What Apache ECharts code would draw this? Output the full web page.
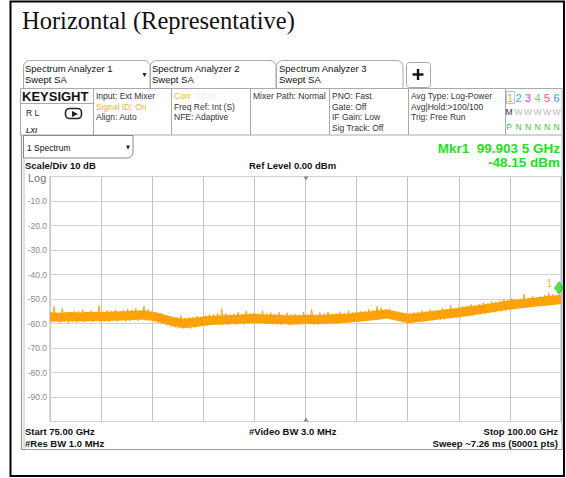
<!DOCTYPE html>
<html><head><meta charset="utf-8">
<script src="https://cdn.jsdelivr.net/npm/echarts@6/dist/echarts.min.js"></script>
<style>html,body{margin:0;padding:0;background:#fff}#c{width:566px;height:478px}</style>
</head><body><div id="c"></div>
<script>
// ---- data ----
const freqStartGHz = 75, freqStopGHz = 100, freqDivGHz = 2.5;
const refLevelDb = 0, bottomDb = -100, dbPerDiv = 10;
const bandStepGHz = 0.5, traceStepGHz = 0.1;
const bandHighDb = [-55.5,-55.6,-55.3,-55.5,-55.2,-55.4,-55.1,-55.0,-54.9,-54.6,-55.2,-56.1,-57.3,-58.0,-57.8,-57.1,-56.8,-56.6,-56.5,-56.2,-56.0,-56.3,-56.4,-56.6,-56.6,-56.4,-56.5,-56.4,-56.1,-56.0,-55.5,-55.2,-54.7,-54.3,-55.2,-56.0,-55.7,-55.1,-54.7,-54.1,-53.7,-53.0,-52.5,-51.8,-51.2,-50.5,-50.1,-49.6,-49.2,-48.7,-48.3];
const bandLowDb = [-59.2,-59.3,-59.1,-59.2,-59.0,-59.1,-58.9,-58.8,-58.6,-58.4,-58.9,-59.9,-61.0,-61.8,-61.5,-60.9,-60.5,-60.4,-60.2,-60.0,-59.8,-60.0,-60.2,-60.3,-60.4,-60.1,-60.3,-60.1,-59.9,-59.7,-59.3,-58.9,-58.5,-58.0,-58.9,-59.8,-59.4,-58.9,-58.4,-57.9,-57.4,-56.8,-56.2,-55.6,-54.9,-54.3,-53.8,-53.4,-52.9,-52.5,-52.0];
const traceDb = [
-55.2,-59.4,-53.0,-58.9,-55.8,-59.6,-53.9,-59.1,-55.3,-59.8,
-55.6,-59.2,-54.9,-59.7,-55.1,-58.8,-54.4,-59.5,-55.9,-59.0,
-54.8,-59.3,-55.4,-58.9,-52.8,-59.6,-55.2,-59.1,-54.7,-59.4,
-55.0,-58.8,-54.3,-59.2,-55.3,-58.7,-54.6,-59.3,-54.1,-58.9,
-54.4,-58.6,-53.8,-58.9,-54.9,-58.3,-52.9,-58.8,-54.2,-58.5,
-54.9,-59.1,-55.4,-59.6,-55.8,-60.2,-56.5,-60.7,-56.9,-61.2,
-57.2,-61.6,-57.6,-61.9,-56.8,-62.1,-57.9,-61.8,-57.5,-62.0,
-57.4,-61.7,-56.9,-61.3,-57.6,-61.0,-56.7,-60.8,-56.2,-60.6,
-56.4,-60.5,-55.8,-60.7,-54.0,-60.3,-55.9,-60.6,-56.3,-60.2,
-56.0,-60.4,-55.5,-60.1,-56.3,-60.5,-54.9,-60.0,-55.9,-59.9,
-55.7,-60.0,-56.1,-59.8,-54.8,-60.2,-56.0,-59.9,-55.6,-60.3,
-56.2,-60.4,-55.5,-60.6,-56.4,-60.2,-55.7,-60.7,-56.3,-60.5,
-56.1,-60.6,-56.5,-60.3,-55.4,-60.5,-56.2,-60.2,-54.3,-60.4,
-56.3,-60.5,-55.6,-60.2,-56.0,-60.4,-55.3,-60.0,-56.1,-60.1,
-55.9,-60.0,-55.2,-59.8,-55.8,-59.7,-54.8,-59.6,-55.5,-59.4,
-55.3,-59.5,-54.9,-59.1,-55.0,-58.9,-54.2,-58.8,-54.6,-58.6,
-53.0,-58.5,-53.7,-58.2,-54.2,-57.9,-53.9,-58.3,-54.8,-58.7,
-55.1,-59.0,-55.6,-59.6,-56.0,-60.1,-55.9,-60.0,-55.4,-59.6,
-55.3,-59.5,-54.8,-59.3,-55.1,-58.9,-54.3,-58.8,-54.6,-58.5,
-54.4,-58.4,-53.8,-58.3,-54.2,-57.9,-52.5,-57.8,-53.7,-57.6,
-53.4,-57.5,-53.0,-57.1,-52.8,-56.9,-52.2,-56.7,-52.6,-56.3,
-52.1,-56.2,-51.5,-56.0,-51.9,-55.6,-51.0,-55.4,-51.3,-55.0,
-50.9,-55.0,-50.2,-54.7,-50.6,-54.4,-49.8,-54.2,-50.3,-53.9,
-49.9,-53.8,-48.0,-53.6,-49.7,-53.4,-48.9,-53.2,-49.4,-53.0,
-48.9,-52.9,-48.4,-52.8,-47.6,-52.5,-48.1,-52.4,-48.6,-52.1,
-49.8];
const markerFreqGHz = [99.9035];
const markerDb = [-48.15];
const markerNames = ['1'];
const yTickLabels = ['', '-10.0', '-20.0', '-30.0', '-40.0', '-50.0', '-60.0', '-70.0', '-80.0', '-90.0', ''];

// ---- build series data ----
const traceData = traceDb.map((v, i) => [+(freqStartGHz + i * traceStepGHz).toFixed(2), v]);
const markerData = markerFreqGHz.map((f, i) => [f, markerDb[i]]);

const ORANGE = '#ffa20a';
const SANS = '"Liberation Sans", Arial, sans-serif';
const G = [];
function T(x, y, text, o) {
  o = o || {};
  const st = {
    x: x, y: y, text: text,
    fontSize: o.size || 8.5, fontFamily: o.family || SANS,
    fontWeight: o.weight || 'normal', fontStyle: o.style || 'normal',
    fill: o.color || '#333',
    align: o.align || 'left', verticalAlign: 'middle',
    textAlign: o.align || 'left', textVerticalAlign: 'middle'
  };
  G.push({ type: 'text', silent: true, z: 10, style: st });
}
function L(x1, y1, x2, y2, c, w) {
  G.push({ type: 'line', silent: true, z: 5, shape: { x1, y1, x2, y2 }, style: { stroke: c || '#aaa', lineWidth: w || 1 } });
}
function R(x, y, w, h, o) {
  o = o || {};
  G.push({ type: 'rect', silent: true, z: o.z || 4, shape: { x, y, width: w, height: h, r: o.r || 0 },
    style: { fill: o.fill || 'none', stroke: o.stroke || '#aaa', lineWidth: o.lw || 1 } });
}
function P(points, c, z) {
  G.push({ type: 'polygon', silent: true, z: z || 6, shape: { points }, style: { fill: c || '#333' } });
}

// outer document border
R(10.5, 1.5, 553.5, 474.5, { stroke: '#000', lw: 2 });
T(22, 20.5, 'Horizontal (Representative)', { size: 24.5, family: '"Liberation Serif", "Times New Roman", serif', color: '#111' });

// tabs
R(23.5, 60.5, 126.5, 28, { r: [6, 6, 0, 0], stroke: '#aaa' });
R(150.5, 60.5, 125.5, 28, { r: [6, 6, 0, 0], stroke: '#aaa' });
R(276.5, 60.5, 126.5, 28, { r: [6, 6, 0, 0], stroke: '#aaa' });
R(406.5, 62.5, 24, 25, { r: 3, stroke: '#aaa' });
L(412.5, 74.5, 423.5, 74.5, '#111', 2.4);
L(418, 69, 418, 80, '#111', 2.4);
T(25, 68.5, 'Spectrum Analyzer 1', { size: 9.5, color: '#111' });
T(25, 79.5, 'Swept SA', { size: 9.5, color: '#111' });
P([[142.5, 73], [146.5, 73], [144.5, 77]], '#222');
T(152, 68.5, 'Spectrum Analyzer 2', { size: 9.5, color: '#111' });
T(152, 79.5, 'Swept SA', { size: 9.5, color: '#111' });
T(279, 68.5, 'Spectrum Analyzer 3', { size: 9.5, color: '#111' });
T(279, 79.5, 'Swept SA', { size: 9.5, color: '#111' });

// info row
R(20.5, 88.5, 541.5, 46.5, { stroke: '#aaa' });
[93.5, 171.5, 250.5, 329.5, 408.5, 505.5].forEach(x => L(x, 88.5, x, 135, '#aaa', 1));
L(20.5, 103.5, 93.5, 103.5, '#aaa', 1);
T(22, 96.5, 'KEYSIGHT', { size: 13, weight: 'bold', color: '#111' });
T(26, 112.5, 'R L', { size: 8.5, color: '#222' });
R(65.5, 108.5, 16, 10, { r: 4, stroke: '#222', lw: 1.6 });
P([[72, 111], [78, 114], [72, 117]], '#222');
T(26, 130, 'LXI', { size: 7, weight: 'bold', style: 'italic', color: '#333' });
const info = [
  [96, ['Input: Ext Mixer', 'Signal ID: On', 'Align: Auto'], ['#333', '#ffb21e', '#333']],
  [174, ['Corr', 'Freq Ref: Int (S)', 'NFE: Adaptive'], ['#ffb21e', '#333', '#333']],
  [253, ['Mixer Path: Normal'], ['#333']],
  [332, ['PNO: Fast', 'Gate: Off', 'IF Gain: Low', 'Sig Track: Off'], ['#333', '#333', '#333', '#333']],
  [411, ['Avg Type: Log-Power', 'Avg|Hold:>100/100', 'Trig: Free Run'], ['#333', '#333', '#333']]
];
const rowY = [96, 106.7, 117.3, 128];
info.forEach(b => b[1].forEach((s, i) => T(b[0], rowY[i], s, { size: 8.5, color: b[2][i] })));
T(195, 96, 'CCorr', { size: 8.5, color: '#ececec' });
// trace indicator box
const trX = [510, 518.5, 528, 537.5, 547, 556.5];
const trC = ['#ffa20a', '#2ab0e8', '#e040e0', '#66d88a', '#ff5070', '#3b8cf0'];
R(506.5, 91.5, 8, 12, { stroke: '#9cc9e8' });
['1', '2', '3', '4', '5', '6'].forEach((s, i) => T(trX[i], 97.5, s, { size: 11, color: trC[i], align: 'center' }));
['M', 'W', 'W', 'W', 'W', 'W'].forEach((s, i) => T(trX[i] - (i ? 0 : 1), 112, s, { size: 8.5, color: i ? '#b8b8b8' : '#333', align: 'center' }));
['P', 'N', 'N', 'N', 'N', 'N'].forEach((s, i) => T(trX[i] - (i ? 0 : 1), 126.5, s, { size: 8.5, color: '#3cc23c', align: 'center' }));

// lower screen frame
L(21.5, 135, 21.5, 450, '#999', 1.2);
L(24, 158, 24, 450, '#bbb', 1);
L(21, 449.5, 562, 449.5, '#999', 1.2);
L(562, 135, 562, 450, '#aaa', 1);
R(23.5, 135.5, 109.5, 22.5, { r: [0, 0, 6, 0], stroke: '#888' });
T(27, 147.5, '1 Spectrum', { size: 8.5, color: '#111' });
P([[126, 145.5], [130, 145.5], [128, 149.5]], '#222');
T(25, 165, 'Scale/Div 10 dB', { size: 9.5, weight: 'bold', color: '#111' });
T(249, 165, 'Ref Level 0.00 dBm', { size: 9.5, weight: 'bold', color: '#111' });
T(28, 178, 'Log', { size: 11, color: '#777' });
T(560, 148, 'Mkr1  99.903 5 GHz', { size: 13.5, weight: 'bold', color: '#22e022', align: 'right' });
T(560, 162, '-48.15 dBm', { size: 13.5, weight: 'bold', color: '#22e022', align: 'right' });
P([[303.5, 176.5], [308.5, 176.5], [306, 180.5]], '#888');
P([[303.5, 421.5], [308.5, 421.5], [306, 417.5]], '#888');
T(25, 431.5, 'Start 75.00 GHz', { size: 9.5, weight: 'bold', color: '#111' });
T(25, 443, '#Res BW 1.0 MHz', { size: 9.5, weight: 'bold', color: '#111' });
T(249, 431.5, '#Video BW 3.0 MHz', { size: 9.5, weight: 'bold', color: '#111' });
T(558, 431.5, 'Stop 100.00 GHz', { size: 9.5, weight: 'bold', color: '#111', align: 'right' });
T(558, 443, 'Sweep ~7.26 ms (50001 pts)', { size: 9.5, weight: 'bold', color: '#111', align: 'right' });

function renderBand(params, api) {
  const pts = [];
  for (let i = 0; i < bandHighDb.length; i++) pts.push(api.coord([freqStartGHz + i * bandStepGHz, bandHighDb[i]]));
  for (let i = bandLowDb.length - 1; i >= 0; i--) pts.push(api.coord([freqStartGHz + i * bandStepGHz, bandLowDb[i]]));
  return { type: 'polygon', shape: { points: pts }, style: { fill: ORANGE } };
}

const chart = echarts.init(document.getElementById('c'), null, { renderer: 'svg' });
chart.setOption({
  animation: false,
  backgroundColor: '#fff',
  grid: { left: 50, top: 176.5, width: 511, height: 245, show: true, borderColor: '#b8b8b8', borderWidth: 1, backgroundColor: 'transparent' },
  xAxis: {
    type: 'value', min: freqStartGHz, max: freqStopGHz, interval: freqDivGHz,
    axisLabel: { show: false }, axisTick: { show: false }, axisLine: { show: false },
    splitLine: { show: true, lineStyle: { color: '#c4c4c4', width: 1 } }
  },
  yAxis: {
    type: 'value', min: bottomDb, max: refLevelDb, interval: dbPerDiv,
    axisTick: { show: false }, axisLine: { show: false },
    axisLabel: { show: true, margin: 3, color: '#8a8a8a', fontSize: 8.5, fontFamily: SANS,
      formatter: v => yTickLabels[Math.round(-v / dbPerDiv)] || '' },
    splitLine: { show: true, lineStyle: { color: '#d2d2d2', width: 1 } }
  },
  series: [
    { type: 'custom', data: [[freqStartGHz, bandLowDb[0]]], encode: { x: 0, y: 1 }, renderItem: renderBand, silent: true, z: 2 },
    { type: 'line', data: traceData, symbol: 'none', lineStyle: { color: ORANGE, width: 1 }, silent: true, z: 3 },
    { type: 'scatter', data: markerData, symbol: 'diamond', symbolSize: [9, 13], symbolOffset: [0, -6.5], clip: false,
      itemStyle: { color: '#22dd22', borderColor: '#18a818', borderWidth: 0.5 }, z: 5,
      label: { show: true, formatter: p => markerNames[p.dataIndex], position: 'left', distance: 2, offset: [0, -5], color: ORANGE, fontSize: 11, fontFamily: SANS } }
  ],
  graphic: { elements: G }
});
</script></body></html>
